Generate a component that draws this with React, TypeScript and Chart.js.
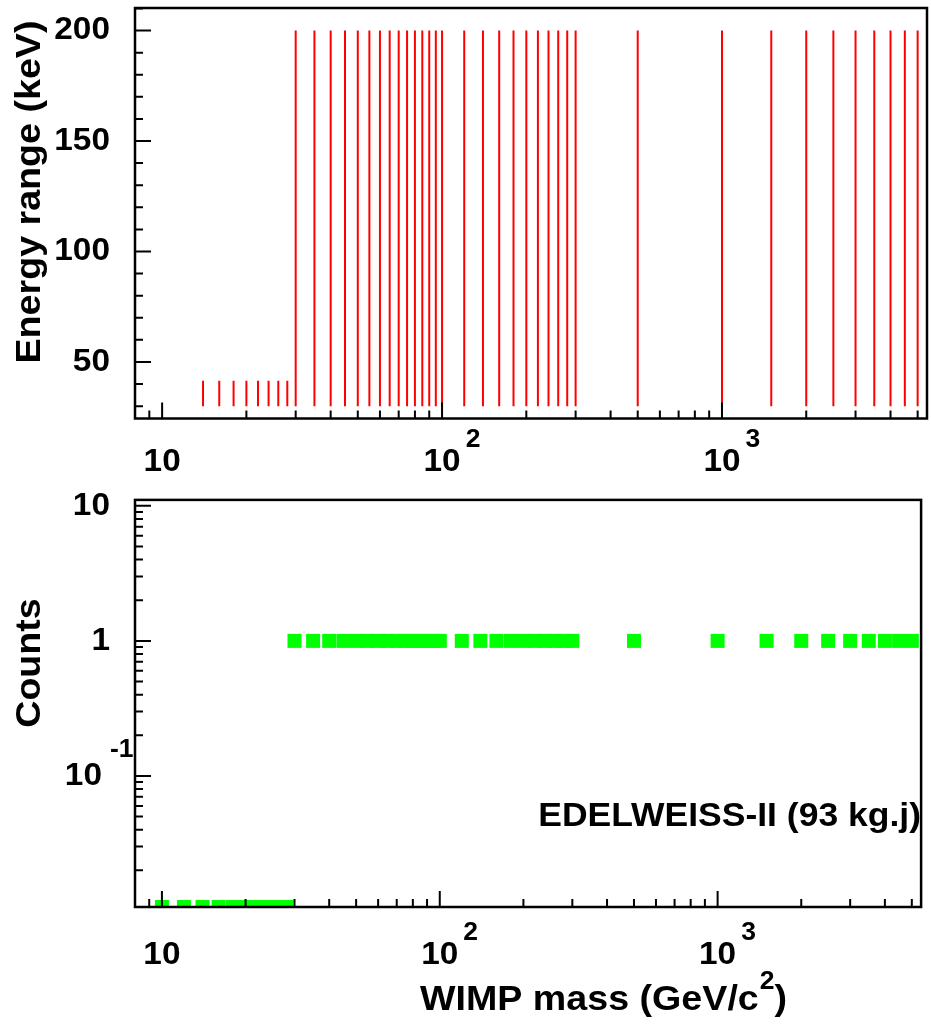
import React, { useEffect, useRef } from "react";
import { Chart, registerables } from "chart.js";

Chart.register(...registerables);

// ---------------- data ----------------
const masses = [
  10, 12, 14, 16, 18, 20, 22, 24, 26, 28,
  30, 35, 40, 45, 50, 55, 60, 65, 70, 75, 80, 85, 90, 95, 100,
  120, 140, 160, 180, 200, 220, 240, 260, 280, 300,
  500, 1000, 1500, 2000, 2500, 3000, 3500, 4000, 4500, 5000,
];
const counts = [
  0, 0, 0, 0, 0, 0, 0, 0, 0, 0,
  1, 1, 1, 1, 1, 1, 1, 1, 1, 1, 1, 1, 1, 1, 1,
  1, 1, 1, 1, 1, 1, 1, 1, 1, 1,
  1, 1, 1, 1, 1, 1, 1, 1, 1, 1,
];
const energyLow = [
  null, null, 30, 30, 30, 30, 30, 30, 30, 30,
  30, 30, 30, 30, 30, 30, 30, 30, 30, 30, 30, 30, 30, 30, 30,
  30, 30, 30, 30, 30, 30, 30, 30, 30, 30,
  30, 30, 30, 30, 30, 30, 30, 30, 30, 30,
];
const energyHigh = [
  null, null, 41.5, 41.5, 41.5, 41.5, 41.5, 41.5, 41.5, 41.5,
  200, 200, 200, 200, 200, 200, 200, 200, 200, 200, 200, 200, 200, 200, 200,
  200, 200, 200, 200, 200, 200, 200, 200, 200, 200,
  200, 200, 200, 200, 200, 200, 200, 200, 200, 200,
];

const xRange = [8, 5400];
const energyRange = [24.4, 210.2];
const countsRange = [0.0107, 11.07];

const xMajorTicks = [10, 100, 1000];
const xMajorLabels: [string, string][] = [["10", ""], ["10", "2"], ["10", "3"]];
const energyMajorTicks = [50, 100, 150, 200];
const energyMajorLabels = ["50", "100", "150", "200"];
const countsMajorTicks = [0.1, 1, 10];
const countsMajorLabels: [string, string][] = [["10", "-1"], ["1", ""], ["10", ""]];

const annotation = "EDELWEISS-II (93 kg.j)";

// ---------------- drawing helpers ----------------
const FONT = '"Liberation Sans", Arial, Helvetica, sans-serif';
const SX = 1.06;
const TICK_SIZE = 31.5;
const SUP_SIZE = 25;
const TITLE_SIZE = 35.5;

function logMinors(min: number, max: number): number[] {
  const out: number[] = [];
  for (let d = Math.floor(Math.log10(min)); d <= Math.ceil(Math.log10(max)); d++) {
    for (let k = 2; k <= 9; k++) {
      const v = k * Math.pow(10, d);
      if (v >= min && v <= max) out.push(v);
    }
  }
  return out;
}

function text(
  ctx: CanvasRenderingContext2D,
  s: string,
  x: number,
  y: number,
  size: number,
  align: "left" | "right" | "center",
  rot = 0
): number {
  ctx.save();
  ctx.font = `bold ${size}px ${FONT}`;
  ctx.textBaseline = "middle";
  ctx.textAlign = "left";
  ctx.fillStyle = "#000";
  const w = ctx.measureText(s).width * SX;
  ctx.translate(x, y);
  if (rot) ctx.rotate(rot);
  const x0 = align === "left" ? 0 : align === "right" ? -w : -w / 2;
  ctx.scale(SX, 1);
  ctx.fillText(s, x0 / SX, 0);
  ctx.restore();
  return w;
}

function drawFrameAndXAxis(chart: any, labelY: number) {
  const ctx: CanvasRenderingContext2D = chart.ctx;
  const a = chart.chartArea;
  const xs = chart.scales.x;
  ctx.save();
  ctx.strokeStyle = "#000";
  ctx.lineWidth = 2;
  ctx.beginPath();
  for (const v of logMinors(xRange[0], xRange[1])) {
    if (xMajorTicks.includes(v)) continue;
    const px = xs.getPixelForValue(v);
    ctx.moveTo(px, a.bottom);
    ctx.lineTo(px, a.bottom - 8);
  }
  for (const v of xMajorTicks) {
    const px = xs.getPixelForValue(v);
    ctx.moveTo(px, a.bottom);
    ctx.lineTo(px, a.bottom - 16);
  }
  ctx.stroke();
  ctx.lineWidth = 2.5;
  ctx.strokeRect(a.left, a.top, a.right - a.left, a.bottom - a.top);
  ctx.restore();
  xMajorTicks.forEach((v, i) => {
    const px = xs.getPixelForValue(v);
    const [base, sup] = xMajorLabels[i];
    const w = text(ctx, base, px, labelY, TICK_SIZE, "center");
    if (sup) text(ctx, sup, px + w / 2 + 5, labelY - 22, SUP_SIZE, "left");
  });
}

const topPlugin = {
  id: "topDecor",
  afterDraw(chart: any) {
    const ctx: CanvasRenderingContext2D = chart.ctx;
    const a = chart.chartArea;
    const ys = chart.scales.y;
    ctx.save();
    ctx.strokeStyle = "#000";
    ctx.lineWidth = 2;
    ctx.beginPath();
    for (let v = 30; v <= energyRange[1]; v += 10) {
      const py = ys.getPixelForValue(v);
      const len = energyMajorTicks.includes(v) ? 16 : 8;
      ctx.moveTo(a.left, py);
      ctx.lineTo(a.left + len, py);
    }
    ctx.stroke();
    ctx.restore();
    drawFrameAndXAxis(chart, 462);
    energyMajorTicks.forEach((v, i) => {
      text(ctx, energyMajorLabels[i], 110, ys.getPixelForValue(v), TICK_SIZE, "right");
    });
    text(ctx, "Energy range (keV)", 30, 192, TITLE_SIZE, "center", -Math.PI / 2);
  },
};

const bottomPlugin = {
  id: "bottomDecor",
  afterDraw(chart: any) {
    const ctx: CanvasRenderingContext2D = chart.ctx;
    const a = chart.chartArea;
    const ys = chart.scales.y;
    ctx.save();
    ctx.strokeStyle = "#000";
    ctx.lineWidth = 2;
    ctx.beginPath();
    for (const v of logMinors(countsRange[0], countsRange[1])) {
      const py = ys.getPixelForValue(v);
      ctx.moveTo(a.left, py);
      ctx.lineTo(a.left + 8, py);
    }
    for (const v of countsMajorTicks) {
      const py = ys.getPixelForValue(v);
      ctx.moveTo(a.left, py);
      ctx.lineTo(a.left + 16, py);
    }
    ctx.stroke();
    ctx.restore();
    drawFrameAndXAxis(chart, 465);
    countsMajorTicks.forEach((v, i) => {
      const py = ys.getPixelForValue(v);
      const [base, sup] = countsMajorLabels[i];
      if (sup) {
        text(ctx, base, 102, py, TICK_SIZE, "right");
        text(ctx, sup, 110, py - 26, SUP_SIZE, "left");
      } else {
        text(ctx, base, 110, py, TICK_SIZE, "right");
      }
    });
    text(ctx, "Counts", 30, 173, TITLE_SIZE, "center", -Math.PI / 2);
    const t1 = "WIMP mass (GeV/c";
    let x = 420;
    const ty = 510;
    x += text(ctx, t1, x, ty, TITLE_SIZE, "left");
    x += text(ctx, "2", x + 1, ty - 18, SUP_SIZE, "left") + 1;
    text(ctx, ")", x, ty, TITLE_SIZE, "left");
    text(ctx, annotation, 921, 817 - 490, 33.5, "right");
  },
};

export default function App() {
  const topRef = useRef<HTMLCanvasElement>(null);
  const botRef = useRef<HTMLCanvasElement>(null);

  useEffect(() => {
    const lineData: { x: number; y: number | null }[] = [];
    masses.forEach((m, i) => {
      const lo = energyLow[i];
      const hi = energyHigh[i];
      if (lo == null || hi == null) return;
      lineData.push({ x: m, y: lo }, { x: m, y: hi }, { x: m, y: null });
    });
    const pointData = masses.map((m, i) => ({
      x: m,
      y: counts[i] > 0 ? counts[i] : countsRange[0],
    }));

    const top = new Chart(topRef.current!, {
      type: "scatter",
      data: {
        datasets: [
          {
            data: lineData as any,
            showLine: true,
            borderColor: "#ff0000",
            backgroundColor: "#ff0000",
            borderWidth: 2,
            pointRadius: 0,
            spanGaps: false,
            clip: 0,
          } as any,
        ],
      },
      options: {
        animation: false,
        responsive: false,
        events: [],
        layout: { padding: { left: 135, right: 4, top: 8, bottom: 71.5 } },
        plugins: { legend: { display: false }, tooltip: { enabled: false } },
        scales: {
          x: { type: "logarithmic", min: xRange[0], max: xRange[1], display: false },
          y: { type: "linear", min: energyRange[0], max: energyRange[1], display: false },
        },
      },
      plugins: [topPlugin],
    });

    const bot = new Chart(botRef.current!, {
      type: "scatter",
      data: {
        datasets: [
          {
            data: pointData,
            pointStyle: "rect",
            pointRadius: 9.9,
            pointBorderWidth: 0,
            borderWidth: 0,
            backgroundColor: "#00ff00",
            pointBackgroundColor: "#00ff00",
            clip: 0,
          } as any,
        ],
      },
      options: {
        animation: false,
        responsive: false,
        events: [],
        layout: { padding: { left: 135, right: 4, top: 7.3, bottom: 119 } },
        plugins: { legend: { display: false }, tooltip: { enabled: false } },
        scales: {
          x: { type: "logarithmic", min: xRange[0], max: xRange[1], display: false },
          y: { type: "logarithmic", min: countsRange[0], max: countsRange[1], display: false },
        },
      },
      plugins: [bottomPlugin],
    });

    return () => {
      top.destroy();
      bot.destroy();
    };
  }, []);

  return (
    <div style={{ position: "absolute", left: 0, top: 0, width: 931, height: 1026, background: "#fff" }}>
      <canvas ref={topRef} width={931} height={490} style={{ position: "absolute", left: 0, top: 0, width: 931, height: 490 }} />
      <canvas ref={botRef} width={931} height={536} style={{ position: "absolute", left: 0, top: 490, width: 931, height: 536 }} />
    </div>
  );
}
